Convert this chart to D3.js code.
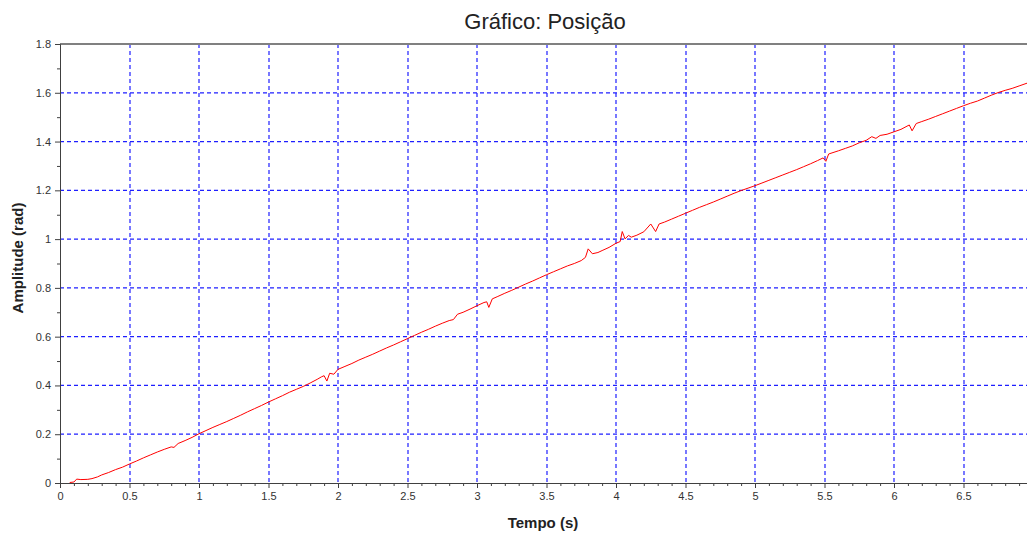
<!DOCTYPE html>
<html>
<head>
<meta charset="utf-8">
<script src="https://cdn.jsdelivr.net/npm/d3@7"></script>
<style>
  body { margin: 0; background: #fff; }
  text { font-family: "Liberation Sans", Arial, sans-serif; }
</style>
</head>
<body>
<div id="chart"></div>
<script>
const width = 1027, height = 536;

// data
const tempo = [0.07, 0.10, 0.12, 0.15, 0.20, 0.23, 0.27, 0.30, 0.35, 0.40, 0.45, 0.50, 0.55, 0.60, 0.65, 0.70, 0.75, 0.80, 0.82, 0.85,
  0.90, 0.95, 1.00, 1.05, 1.10, 1.15, 1.20, 1.25, 1.30, 1.35, 1.40, 1.45, 1.50, 1.55, 1.60, 1.65, 1.70, 1.75, 1.80, 1.85,
  1.88, 1.90, 1.92, 1.94, 1.97, 2.00, 2.05, 2.10, 2.15, 2.20, 2.25, 2.30, 2.35, 2.40, 2.45, 2.50, 2.55, 2.60, 2.65, 2.70,
  2.75, 2.80, 2.83, 2.86, 2.90, 2.95, 3.00, 3.05, 3.07, 3.085, 3.11, 3.15, 3.20, 3.25, 3.30, 3.35, 3.40, 3.45, 3.50, 3.55,
  3.60, 3.65, 3.70, 3.75, 3.78, 3.80, 3.83, 3.87, 3.90, 3.95, 4.00, 4.03, 4.045, 4.065, 4.09, 4.11, 4.15, 4.20, 4.25, 4.285,
  4.31, 4.35, 4.40, 4.45, 4.50, 4.55, 4.60, 4.65, 4.70, 4.75, 4.80, 4.85, 4.90, 4.95, 5.00, 5.05, 5.10, 5.15, 5.20, 5.25,
  5.30, 5.35, 5.40, 5.45, 5.49, 5.51, 5.53, 5.60, 5.65, 5.70, 5.75, 5.80, 5.84, 5.87, 5.90, 5.95, 6.00, 6.05, 6.11, 6.13,
  6.16, 6.20, 6.25, 6.30, 6.35, 6.40, 6.45, 6.50, 6.55, 6.60, 6.65, 6.70, 6.75, 6.80, 6.85, 6.90, 6.96];
const posicao = [0.002, 0.004, 0.016, 0.014, 0.015, 0.018, 0.025, 0.033, 0.043, 0.055, 0.065, 0.078, 0.090, 0.103, 0.115, 0.127, 0.138, 0.148, 0.146, 0.162,
  0.174, 0.187, 0.202, 0.215, 0.228, 0.240, 0.252, 0.265, 0.278, 0.292, 0.305, 0.318, 0.332, 0.345, 0.358, 0.372, 0.384, 0.396, 0.410, 0.425,
  0.435, 0.440, 0.418, 0.450, 0.446, 0.466, 0.478, 0.490, 0.504, 0.516, 0.528, 0.541, 0.554, 0.566, 0.579, 0.592, 0.605, 0.618, 0.630, 0.643,
  0.655, 0.666, 0.670, 0.692, 0.700, 0.713, 0.727, 0.740, 0.743, 0.720, 0.755, 0.765, 0.778, 0.790, 0.803, 0.816, 0.828, 0.841, 0.854, 0.866,
  0.878, 0.890, 0.900, 0.912, 0.925, 0.960, 0.940, 0.945, 0.953, 0.966, 0.983, 0.990, 1.031, 1.001, 1.015, 1.008, 1.016, 1.030, 1.062, 1.031,
  1.062, 1.070, 1.082, 1.094, 1.106, 1.118, 1.130, 1.141, 1.152, 1.164, 1.176, 1.188, 1.199, 1.209, 1.219, 1.230, 1.241, 1.252, 1.263, 1.274,
  1.285, 1.297, 1.309, 1.322, 1.333, 1.319, 1.349, 1.362, 1.372, 1.382, 1.395, 1.405, 1.420, 1.413, 1.425, 1.430, 1.440, 1.450, 1.468, 1.444,
  1.474, 1.482, 1.492, 1.503, 1.514, 1.525, 1.536, 1.547, 1.557, 1.566, 1.578, 1.590, 1.601, 1.610, 1.618, 1.628, 1.640];

const xTicks = [0, 0.5, 1, 1.5, 2, 2.5, 3, 3.5, 4, 4.5, 5, 5.5, 6, 6.5];
const yTicks = [0, 0.2, 0.4, 0.6, 0.8, 1, 1.2, 1.4, 1.6, 1.8];

const margin = { top: 44, right: 0, bottom: 53, left: 60 };
const innerH = height - margin.top - margin.bottom;

const svg = d3.select('#chart').append('svg')
  .attr('width', width).attr('height', height);

// frame runs past the window edge
const x = d3.scaleLinear().domain([0, 7.07]).range([margin.left, margin.left + 139 * 7.07]);
const y = d3.scaleLinear().domain([0, 1.8]).range([margin.top + innerH, margin.top]);

const px = v => Math.round(v) + 0.5;

// grid (soft, antialiased like the original)
const grid = svg.append('g');
grid.selectAll('line.v').data(xTicks.slice(1)).enter().append('line')
  .attr('class', 'v')
  .attr('x1', d => Math.round(x(d))).attr('x2', d => Math.round(x(d)))
  .attr('y1', y(1.8)).attr('y2', y(0));
grid.selectAll('line.h').data(yTicks.slice(1, -1)).enter().append('line')
  .attr('class', 'h')
  .attr('y1', d => y(d)).attr('y2', d => y(d))
  .attr('x1', margin.left).attr('x2', width);
grid.selectAll('line')
  .style('stroke', '#1f1fff').style('stroke-width', '1.2px')
  .style('stroke-dasharray', '4,3');

// top frame
svg.append('line').attr('x1', margin.left).attr('x2', width)
  .attr('y1', y(1.8)).attr('y2', y(1.8))
  .style('stroke', '#808080').style('stroke-width', '2px');

// line
const line = d3.line().x(d => x(d[0])).y(d => y(d[1]));
svg.append('path')
  .datum(d3.zip(tempo, posicao))
  .attr('fill', 'none').style('stroke', '#ff0000').style('stroke-width', '1px')
  .attr('stroke-linejoin', 'round')
  .attr('d', line);

// axes
const axisStyle = g => {
  g.selectAll('.domain, .tick line').style('stroke', '#404040');
  g.selectAll('.tick text').attr('fill', '#333').style('font-size', '11px')
    .style('font-family', '"Liberation Sans", Arial, sans-serif');
};
const x0 = px(y(0)) - 0.5;
const gx = svg.append('g').attr('transform', `translate(0,${x0})`)
  .call(d3.axisBottom(x).tickValues(xTicks).tickSize(5).tickPadding(4).tickFormat(d3.format('~g')))
  .call(axisStyle);
gx.select('.domain').attr('d', `M${margin.left},0.5H${width}`);
svg.append('g').attr('transform', `translate(0,${x0})`)
  .call(d3.axisBottom(x).tickValues(d3.range(1, 70).filter(i => i % 5).map(i => i / 10)).tickSize(3).tickFormat(''))
  .call(g => g.select('.domain').remove())
  .call(axisStyle);

const y0 = px(margin.left) - 0.5;
svg.append('g').attr('transform', `translate(${y0},0)`)
  .call(d3.axisLeft(y).tickValues(yTicks).tickSize(5).tickPadding(4).tickFormat(d3.format('~g')))
  .call(axisStyle);
svg.append('g').attr('transform', `translate(${y0},0)`)
  .call(d3.axisLeft(y).tickValues(d3.range(1, 18, 2).map(i => i / 10)).tickSize(3).tickFormat(''))
  .call(g => g.select('.domain').remove())
  .call(axisStyle);

// labels
svg.append('text').attr('x', 545).attr('y', 29).attr('text-anchor', 'middle')
  .style('font-size', '22px').attr('fill', '#222').text('Gráfico: Posição');
svg.append('text').attr('x', 543).attr('y', 528).attr('text-anchor', 'middle')
  .style('font-size', '15px').style('font-weight', 'bold').attr('fill', '#222').text('Tempo (s)');
svg.append('text').attr('transform', `translate(23,258) rotate(-90)`).attr('text-anchor', 'middle')
  .style('font-size', '15px').style('font-weight', 'bold').attr('fill', '#222').text('Amplitude (rad)');
</script>
</body>
</html>
